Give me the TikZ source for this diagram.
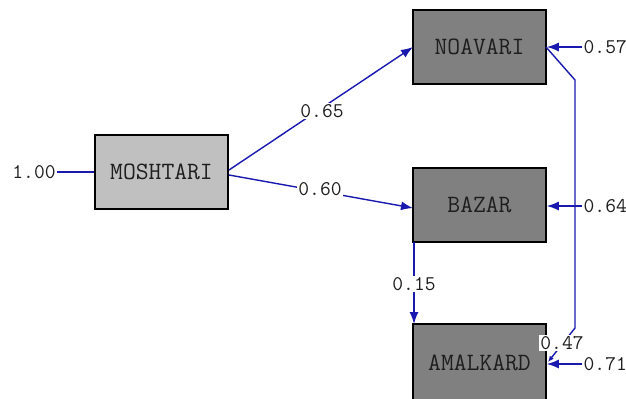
\documentclass[tikz,border=0pt]{standalone}
\usetikzlibrary{arrows.meta}
\definecolor{pathblue}{RGB}{25,25,175}
\definecolor{latentgray}{RGB}{128,128,128}
\definecolor{observedgray}{RGB}{192,192,192}
\definecolor{txt}{RGB}{30,30,30}
\tikzset{
  var/.style={draw=black, line width=1.6bp, minimum width=133bp, minimum height=74bp,
    inner sep=0pt, font=\ttfamily\fontsize{25}{25}\selectfont, text=txt},
  coef/.style={font=\ttfamily\fontsize{21}{21}\selectfont, text=txt, inner sep=1.5bp},
  coefbg/.style={coef, fill=white},
  path/.style={draw=pathblue, line width=1.4bp},
  head/.style={-{Latex[length=12bp,width=9bp]}},
}
\begin{document}
\begin{tikzpicture}[x=1bp,y=-1bp]
  \useasboundingbox (0,0) rectangle (626,398);
  \clip (0,0) rectangle (626,398);
  \fill[white] (0,0) rectangle (626,398);

  % variables
  \node[var, fill=observedgray] (msh) at (161.5,172) {MOSHTARI};
  \node[var, fill=latentgray]   (noa) at (479.5,47)  {NOAVARI};
  \node[var, fill=latentgray]   (baz) at (479.5,205) {BAZAR};
  \node[var, fill=latentgray, minimum height=78bp] (amk) at (479.5,363) {AMALKARD};

  % variance of the exogenous variable
  \node[coef] (vmsh) at (34,172) {1.00};
  \draw[path] (vmsh.east) -- (msh.west);

  % structural paths
  \coordinate (mshA) at (229,170);
  \coordinate (mshB) at (229,175);
  \coordinate (noaIn) at (413,47);
  \coordinate (bazIn) at (413,208);
  \draw[path, head] (mshA) -- (noaIn);
  \draw[path, head] (mshB) -- (bazIn);
  \node[coefbg] (c65) at (322,111) {0.65};
  \node[coefbg] (c60) at (320,189) {0.60};

  \coordinate (bazOut) at (414,242);
  \coordinate (amkIn) at (414,324);
  \draw[path, head] (bazOut) -- (amkIn);
  \node[coefbg] (c15) at (414,284) {0.15};

  % residual covariance
  \coordinate (noaC) at (546,47);
  \coordinate (k1) at (575,80);
  \coordinate (k2) at (575,328);
  \coordinate (amkC) at (548,362);
  \draw[path, -{Latex[length=6bp,width=5bp]}] (noaC) -- (k1) -- (k2) -- (amkC);
  \node[coefbg] (c47) at (562,343) {0.47};

  % residual variances
  \node[coef, anchor=west] (e57) at (582,47) {0.57};
  \node[coef, anchor=west] (e64) at (582,206) {0.64};
  \node[coef, anchor=west] (e71) at (582,364) {0.71};
  \draw[path, head] (e57.west) -- (noa.east |- e57.west);
  \draw[path, head] (e64.west) -- (baz.east |- e64.west);
  \draw[path, head] (e71.west) -- (amk.east |- e71.west);
\end{tikzpicture}
\end{document}
